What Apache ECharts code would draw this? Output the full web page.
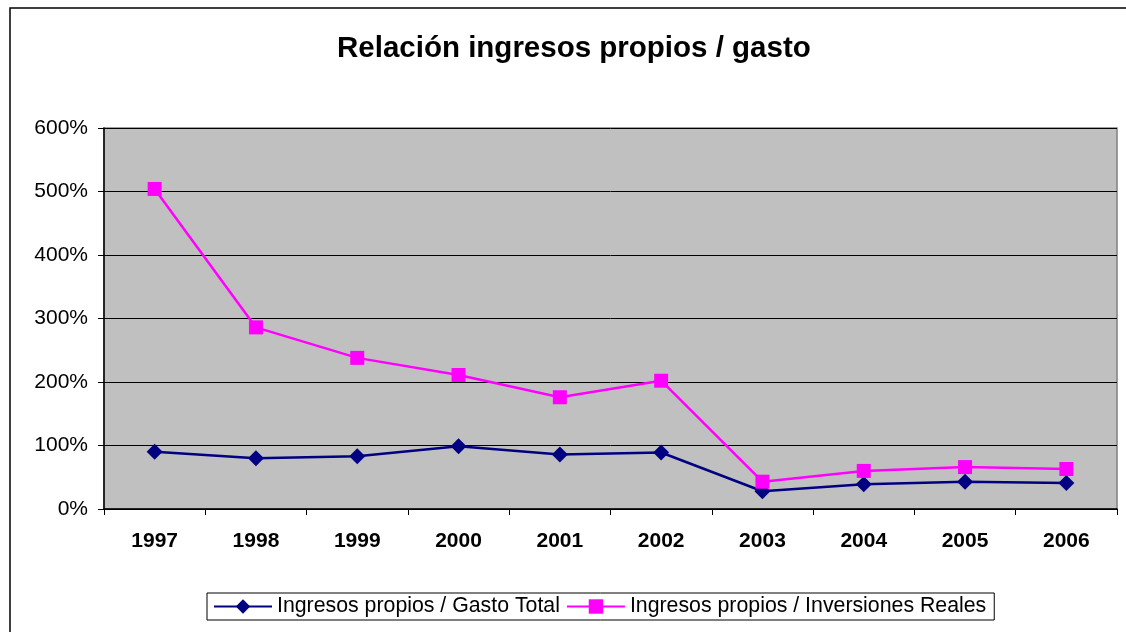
<!DOCTYPE html>
<html>
<head>
<meta charset="utf-8">
<style>
  html, body { margin: 0; padding: 0; background: #fff; }
  #chart { width: 1126px; height: 632px; }
</style>
<script src="https://cdn.jsdelivr.net/npm/echarts@6/dist/echarts.min.js"></script>
</head>
<body>
<div id="chart"></div>
<script>
// Years on the category axis
const years = ['1997', '1998', '1999', '2000', '2001', '2002', '2003', '2004', '2005', '2006'];
// Own revenue / total expenditure (%)
const gastoTotal = [90, 80, 83, 99, 86, 89, 28, 39, 43, 41];
// Own revenue / real investment (%)
const inversionesReales = [504, 286, 238, 211, 176, 202, 43, 60, 66, 63];
// Value axis ticks
const yTicks = [0, 100, 200, 300, 400, 500, 600];

const chart = echarts.init(document.getElementById('chart'), null, { renderer: 'canvas' });

const font = 'Arial, "Liberation Sans", sans-serif';

chart.setOption({
  animation: false,
  backgroundColor: '#ffffff',
  title: {
    text: 'Relación ingresos propios / gasto',
    left: 332,
    top: 29,
    textStyle: { fontFamily: font, fontSize: 29.5, fontWeight: 'bold', color: '#000' }
  },
  graphic: [
    {
      type: 'rect',
      shape: { x: 10, y: 8, width: 1130, height: 640 },
      style: { fill: null, stroke: '#000', lineWidth: 1.5 },
      silent: true,
      z: -1
    }
  ],
  grid: {
    left: 104, right: 9, top: 128, bottom: 123,
    show: true,
    backgroundColor: '#C0C0C0',
    borderColor: '#808080',
    borderWidth: 1.5
  },
  legend: {
    bottom: 12,
    left: 207,
    itemWidth: 58,
    itemHeight: 18,
    itemGap: 6,
    padding: [3, 8, 3, 6],
    borderColor: '#000',
    borderWidth: 1,
    backgroundColor: '#fff',
    textStyle: { fontFamily: font, fontSize: 21.3, color: '#000', padding: [0, 0, 0, 0] },
    data: ['Ingresos propios / Gasto Total', 'Ingresos propios / Inversiones Reales']
  },
  xAxis: {
    type: 'category',
    data: years,
    boundaryGap: true,
    axisLine: { show: true, lineStyle: { color: '#000', width: 1.5 } },
    axisTick: { show: true, inside: false, length: 6, alignWithLabel: false, lineStyle: { color: '#000' } },
    axisLabel: { margin: 22, fontFamily: font, fontSize: 21, fontWeight: 'bold', color: '#000' },
    splitLine: { show: false }
  },
  yAxis: {
    type: 'value',
    min: yTicks[0],
    max: yTicks[yTicks.length - 1],
    interval: 100,
    axisLine: { show: true, lineStyle: { color: '#000', width: 1.5 } },
    axisTick: { show: true, length: 6, lineStyle: { color: '#000' } },
    axisLabel: {
      margin: 16, fontFamily: font, fontSize: 21, color: '#000',
      formatter: v => v + '%'
    },
    splitLine: { show: true, lineStyle: { color: '#000', width: 1 } }
  },
  series: [
    {
      name: 'Ingresos propios / Gasto Total',
      type: 'line',
      data: gastoTotal,
      symbol: 'diamond',
      symbolSize: 16,
      lineStyle: { color: '#000080', width: 2.5 },
      itemStyle: { color: '#000080' },
      z: 3
    },
    {
      name: 'Ingresos propios / Inversiones Reales',
      type: 'line',
      data: inversionesReales,
      symbol: 'rect',
      symbolSize: 14,
      lineStyle: { color: '#FF00FF', width: 2.5 },
      itemStyle: { color: '#FF00FF' },
      z: 4
    }
  ]
});
</script>
</body>
</html>
